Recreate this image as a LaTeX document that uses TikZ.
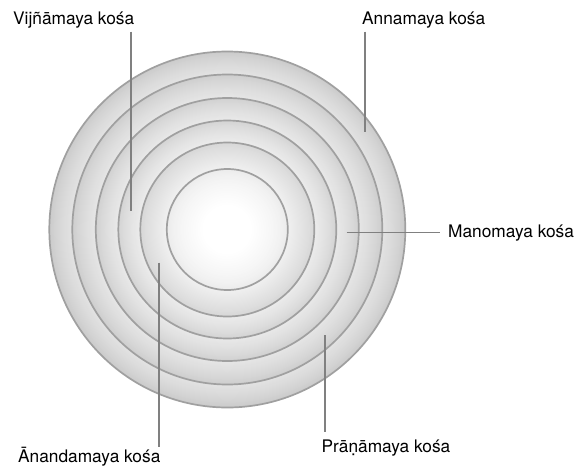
\documentclass[tikz,border=0pt]{standalone}
\usepackage{fontspec}
\setmainfont{TeX Gyre Heros}
\definecolor{ringline}{HTML}{A0A0A0}
\definecolor{leadline}{HTML}{808080}
\tikzset{
  ring/.style={draw=ringline, line width=1.7pt},
  lead/.style={draw=leadline, line width=1.8pt},
  lbl/.style={anchor=base west, inner sep=0pt, font=\fontsize{17.3}{20}\selectfont, text=black}
}
\begin{document}
\begin{tikzpicture}[x=1pt,y=-1pt]
\useasboundingbox (0,0) rectangle (585,466);
\coordinate (c) at (227.3,229.5);
% banded gradient fill (drawn as thin concentric discs)
\foreach \ro/\ri/\dk/\lt in {178/155/203/228, 155/131.5/206/231, 131.5/109/209/234, 109/87/212/237, 87/60.5/215/241}{
  \foreach \i in {0,...,24}{
    \pgfmathsetmacro\rad{\ro-(\ro-\ri)*\i/24}
    \pgfmathtruncatemacro\g{\dk+(\lt-\dk)*(\i/24)^0.8}
    \definecolor{bandc}{RGB}{\g,\g,\g}
    \fill[bandc] (c) circle[radius=\rad pt];
  }
}
\foreach \i in {0,...,30}{
  \pgfmathsetmacro\rad{60.5-35.5*\i/30}
  \pgfmathtruncatemacro\g{236+19*(\i/30)^0.7}
  \definecolor{bandc}{RGB}{\g,\g,\g}
  \fill[bandc] (c) circle[radius=\rad pt];
}
% ring outlines
\foreach \r in {178,155,131.5,109,87,60.5}{
  \draw[ring] (c) circle[radius=\r pt];
}
% labels
\node[lbl] (vij) at (13,24) {Vijñāmaya kośa};
\node[lbl] (ann) at (362,24) {Annamaya kośa};
\node[lbl] (man) at (448,237.5) {Manomaya kośa};
\node[lbl] (pra) at (321.5,452) {Prāṇāmaya kośa};
\node[lbl] (ana) at (18,462.5) {Ānandamaya kośa};
% connector ends
\coordinate (vijT) at (131,31.5);
\coordinate (vijB) at (131,211);
\coordinate (annT) at (365,31.5);
\coordinate (annB) at (365,132);
\coordinate (manL) at (346.5,232.5);
\coordinate (manR) at (440,232.5);
\coordinate (praT) at (325.3,335);
\coordinate (praB) at (325.3,432);
\coordinate (anaT) at (159,262.5);
\coordinate (anaB) at (159,446.5);
\draw[lead] (vijT) -- (vijB);
\draw[lead] (annT) -- (annB);
\draw[lead] (manL) -- (manR);
\draw[lead] (praT) -- (praB);
\draw[lead] (anaT) -- (anaB);
\end{tikzpicture}
\end{document}
